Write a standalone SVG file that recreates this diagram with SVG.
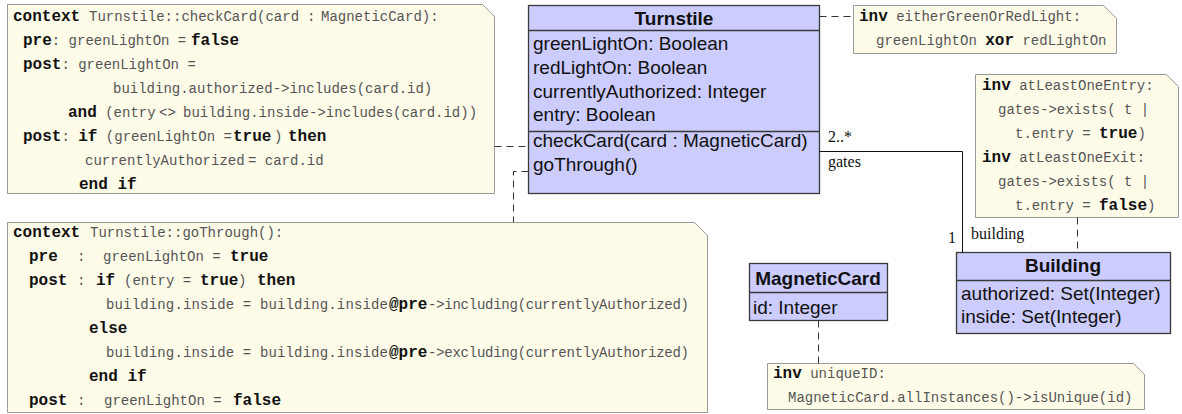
<svg xmlns="http://www.w3.org/2000/svg" width="1182" height="414" viewBox="0 0 1182 414">
  <defs>
    <style>
      .note{fill:#fefbe8;stroke:#9a9a9a;stroke-width:1}
      .cls{fill:#ccccff;stroke:#3a3a3a;stroke-width:1.3}
      .div{stroke:#3a3a3a;stroke-width:1.3}
      .m{font-family:"Liberation Mono","DejaVu Sans Mono",monospace;font-size:14px;fill:#555;white-space:pre}
      .k{font-weight:bold;font-size:16px;fill:#111}
      .t{font-family:"Liberation Sans",Arial,sans-serif;font-size:19px;fill:#111}
      .tb{font-weight:bold;text-anchor:middle}
      .lbl{font-family:"Liberation Serif","Times New Roman",serif;font-size:16px;fill:#111}
      .dash{fill:none;stroke:#333;stroke-width:1;stroke-dasharray:7 5}
      .assoc{fill:none;stroke:#111;stroke-width:1}
    </style>
  </defs>

  <!-- OCL note: checkCard pre/post -->
  <g id="note-checkCard">
    <path class="note" d="M7.5,4.5 H482.5 L494.5,16.5 V193.5 H7.5 Z"/>
    <text class="m" y="21"><tspan class="k" x="13">context</tspan><tspan x="89">Turnstile::checkCard(card</tspan><tspan x="307">:</tspan><tspan x="321">MagneticCard):</tspan></text>
    <text class="m" y="45"><tspan class="k" x="23">pre</tspan>: greenLightOn = <tspan class="k" x="191">false</tspan></text>
    <text class="m" y="69"><tspan class="k" x="23">post</tspan>: greenLightOn =</text>
    <text class="m" y="93" x="113">building.authorized-&gt;includes(card.id)</text>
    <text class="m" y="117"><tspan class="k" x="68">and</tspan> (entry<tspan x="159">&lt;&gt;</tspan><tspan x="183">building.inside-&gt;includes(card.id))</tspan></text>
    <text class="m" y="141"><tspan class="k" x="23">post</tspan>: <tspan class="k">if</tspan> (greenLightOn =<tspan class="k" x="233">true</tspan><tspan x="274">)</tspan><tspan class="k" x="288">then</tspan></text>
    <text class="m" y="165"><tspan x="85">currentlyAuthorized</tspan><tspan x="248">= card.id</tspan></text>
    <text class="m" y="189"><tspan class="k" x="79">end if</tspan></text>
  </g>

  <!-- OCL note: goThrough pre/post -->
  <g id="note-goThrough">
    <path class="note" d="M7.5,222.5 H694.5 L707.5,235.5 V412.5 H7.5 Z"/>
    <text class="m" y="237"><tspan class="k" x="13">context</tspan><tspan x="90">Turnstile::goThrough():</tspan></text>
    <text class="m" y="261"><tspan class="k" x="29">pre</tspan><tspan x="77">:</tspan><tspan x="103">greenLightOn = </tspan><tspan class="k" x="230">true</tspan></text>
    <text class="m" y="285"><tspan class="k" x="29">post</tspan><tspan x="77">:</tspan><tspan class="k" x="96">if</tspan><tspan x="124">(entry = </tspan><tspan class="k" x="200">true</tspan><tspan x="238">)</tspan><tspan class="k" x="257">then</tspan></text>
    <text class="m" y="309"><tspan x="106" textLength="282" lengthAdjust="spacing">building.inside = building.inside</tspan><tspan class="k" x="389">@pre</tspan><tspan x="428" textLength="261" lengthAdjust="spacing">-&gt;including(currentlyAuthorized)</tspan></text>
    <text class="m" y="333"><tspan class="k" x="89">else</tspan></text>
    <text class="m" y="357"><tspan x="106" textLength="282" lengthAdjust="spacing">building.inside = building.inside</tspan><tspan class="k" x="389">@pre</tspan><tspan x="428" textLength="261" lengthAdjust="spacing">-&gt;excluding(currentlyAuthorized)</tspan></text>
    <text class="m" y="381"><tspan class="k" x="89">end if</tspan></text>
    <text class="m" y="405"><tspan class="k" x="29">post</tspan><tspan x="77">:</tspan><tspan x="104">greenLightOn = </tspan><tspan class="k" x="233">false</tspan></text>
  </g>

  <!-- Turnstile class -->
  <g id="Turnstile">
    <rect class="cls" x="528.5" y="5.5" width="291" height="188"/>
    <line class="div" x1="528.5" y1="30.5" x2="819.5" y2="30.5"/>
    <line class="div" x1="528.5" y1="131.5" x2="819.5" y2="131.5"/>
    <text class="t tb" x="674" y="25">Turnstile</text>
    <text class="t" x="533" y="50">greenLightOn: Boolean</text>
    <text class="t" x="533" y="74">redLightOn: Boolean</text>
    <text class="t" x="533" y="98">currentlyAuthorized: Integer</text>
    <text class="t" x="533" y="121">entry: Boolean</text>
    <text class="t" x="533" y="147">checkCard(card : MagneticCard)</text>
    <text class="t" x="533" y="171">goThrough()</text>
  </g>

  <!-- invariant on Turnstile lights -->
  <g id="note-eitherGreenOrRedLight">
    <path class="note" d="M853.5,5.5 H1103.5 L1116.5,18.5 V53.5 H853.5 Z"/>
    <text class="m" y="21"><tspan class="k" x="859">inv</tspan> eitherGreenOrRedLight:</text>
    <text class="m" y="45"><tspan x="876">greenLightOn </tspan><tspan class="k">xor</tspan> redLightOn</text>
  </g>

  <!-- invariants on gates -->
  <g id="note-atLeastOne">
    <path class="note" d="M975.5,74.5 H1166.5 L1178.5,86.5 V217.5 H975.5 Z"/>
    <text class="m" y="90"><tspan class="k" x="982">inv</tspan> atLeastOneEntry:</text>
    <text class="m" y="114" x="998">gates-&gt;exists( t |</text>
    <text class="m" y="138"><tspan x="1015">t.entry = </tspan><tspan class="k">true</tspan>)</text>
    <text class="m" y="162"><tspan class="k" x="982">inv</tspan> atLeastOneExit:</text>
    <text class="m" y="186" x="998">gates-&gt;exists( t |</text>
    <text class="m" y="210"><tspan x="1015">t.entry = </tspan><tspan class="k">false</tspan>)</text>
  </g>

  <!-- MagneticCard class -->
  <g id="MagneticCard">
    <rect class="cls" x="749.5" y="263.5" width="138" height="57"/>
    <line class="div" x1="749.5" y1="292.5" x2="887.5" y2="292.5"/>
    <text class="t tb" x="818" y="285">MagneticCard</text>
    <text class="t" x="753" y="314">id: Integer</text>
  </g>

  <!-- Building class -->
  <g id="Building">
    <rect class="cls" x="956.5" y="252.5" width="214" height="81"/>
    <line class="div" x1="956.5" y1="280.5" x2="1170.5" y2="280.5"/>
    <text class="t tb" x="1063" y="272">Building</text>
    <text class="t" x="961" y="300">authorized: Set(Integer)</text>
    <text class="t" x="961" y="323">inside: Set(Integer)</text>
  </g>

  <!-- invariant on MagneticCard -->
  <g id="note-uniqueID">
    <path class="note" d="M767.5,363.5 H1133.5 L1144.5,374.5 V409.5 H767.5 Z"/>
    <text class="m" y="378"><tspan class="k" x="773">inv</tspan> uniqueID:</text>
    <text class="m" y="402" x="788">MagneticCard.allInstances()-&gt;isUnique(id)</text>
  </g>

  <!-- connectors -->
  <g id="connectors">
    <path class="dash" d="M494.5,146.5 H528.5"/>
    <path class="dash" d="M528.5,171.5 H513.5 V222.5"/>
    <path class="dash" d="M819.5,16.5 H853.5"/>
    <path class="dash" d="M1077.5,217.5 V252.5"/>
    <path class="dash" d="M818.5,320.5 V363.5"/>
    <path class="assoc" d="M819.5,151.5 H962.5 V252.5"/>
    <text class="lbl" x="828" y="142">2..*</text>
    <text class="lbl" x="828" y="167">gates</text>
    <text class="lbl" x="948" y="243">1</text>
    <text class="lbl" x="971" y="239">building</text>
  </g>
</svg>
